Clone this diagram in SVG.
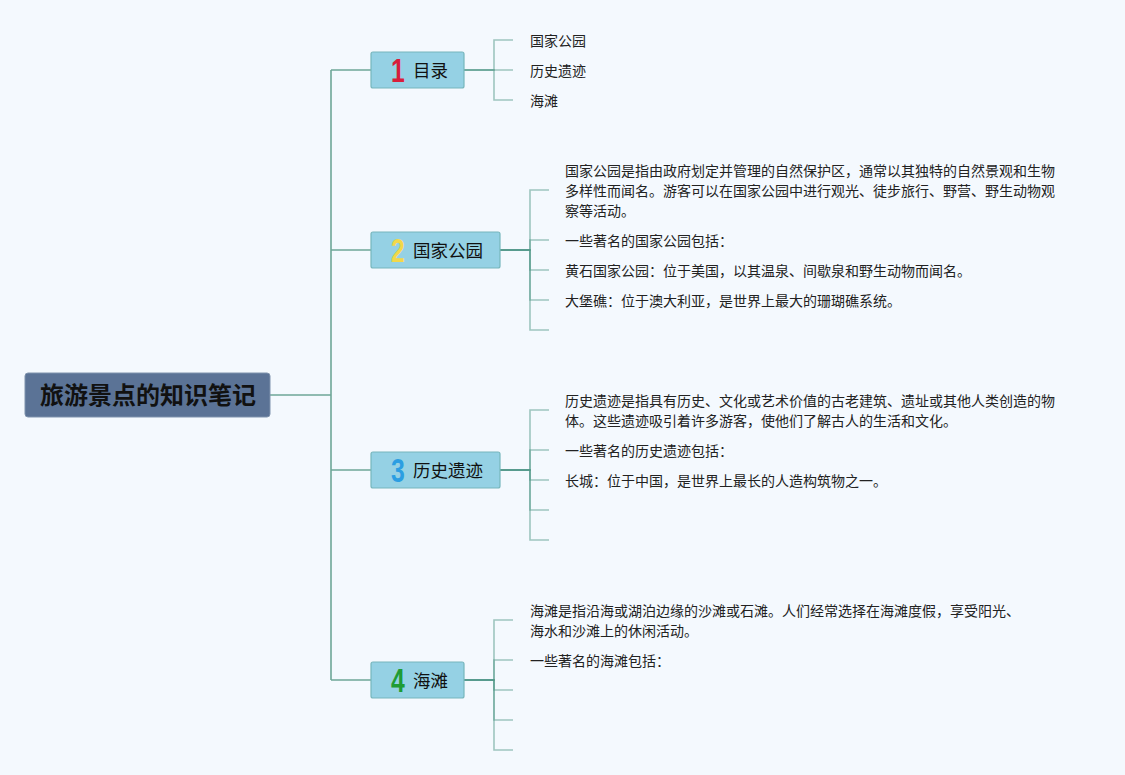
<svg xmlns="http://www.w3.org/2000/svg" width="1125" height="775" viewBox="0 0 1125 775">
<style>
.bg{fill:#f4f9fe}
.trunk{fill:none;stroke:#6ea798;stroke-width:1.6}
.sub{fill:none;stroke:#4a9482;stroke-opacity:0.5;stroke-width:1.6}
.root{fill:#5b7396;stroke:#7f93ad;stroke-width:1}
.rootT{font-family:"Noto Sans CJK SC",sans-serif;font-weight:bold;font-size:24px;fill:#111;text-anchor:middle}
.box{fill:#95d1e4;stroke:#76b6bc;stroke-width:1.2}
.num{font-family:"Liberation Sans",sans-serif;font-weight:bold;font-size:33px;text-anchor:middle}
.lbl{font-family:"Noto Sans CJK SC",sans-serif;font-size:17.5px;fill:#111}
.t{font-family:"Noto Sans CJK SC",sans-serif;font-size:14px;fill:#222}
</style>
<rect class="bg" x="0" y="0" width="1125" height="775"/>
<g id="connectors">
<path class="trunk" d="M270 395H331M331 70V680M331 70H371M331 250H371M331 470H371M331 680H371"/>
<path class="sub" d="M464 70H494V40H513"/>
<path class="sub" d="M464 70H494H513"/>
<path class="sub" d="M464 70H494V100H513"/>
<path class="sub" d="M500 250H530V190H549"/>
<path class="sub" d="M500 250H530V240H549"/>
<path class="sub" d="M500 250H530V270H549"/>
<path class="sub" d="M500 250H530V300H549"/>
<path class="sub" d="M500 250H530V330H549"/>
<path class="sub" d="M500 470H530V410H549"/>
<path class="sub" d="M500 470H530V450H549"/>
<path class="sub" d="M500 470H530V480H549"/>
<path class="sub" d="M500 470H530V510H549"/>
<path class="sub" d="M500 470H530V540H549"/>
<path class="sub" d="M464 680H494V620H513"/>
<path class="sub" d="M464 680H494V660H513"/>
<path class="sub" d="M464 680H494V690H513"/>
<path class="sub" d="M464 680H494V720H513"/>
<path class="sub" d="M464 680H494V750H513"/>
</g>
<g id="root">
<rect class="root" x="25" y="373" width="245" height="44" rx="3"/>
<text class="rootT" x="148" y="404">旅游景点的知识笔记</text>
</g>
<g id="node1">
<rect class="box" x="371" y="52" width="93" height="36" rx="2"/>
<text class="num" transform="translate(398,82) scale(0.75,1)" fill="#d81e3a">1</text>
<text class="lbl" x="413" y="77">目录</text>
</g>
<g id="node2">
<rect class="box" x="371" y="232" width="129" height="36" rx="2"/>
<text class="num" transform="translate(398,262) scale(0.75,1)" fill="#f2d84a">2</text>
<text class="lbl" x="413" y="257">国家公园</text>
</g>
<g id="node3">
<rect class="box" x="371" y="452" width="129" height="36" rx="2"/>
<text class="num" transform="translate(398,482) scale(0.75,1)" fill="#2b9ee2">3</text>
<text class="lbl" x="413" y="477">历史遗迹</text>
</g>
<g id="node4">
<rect class="box" x="371" y="662" width="93" height="36" rx="2"/>
<text class="num" transform="translate(398,692) scale(0.75,1)" fill="#1f9c35">4</text>
<text class="lbl" x="413" y="687">海滩</text>
</g>
<g id="node1-children">
<text class="t" x="530" y="46">国家公园</text>
<text class="t" x="530" y="76">历史遗迹</text>
<text class="t" x="530" y="106">海滩</text>
</g>
<g id="node2-children">
<text class="t" x="565" y="176">国家公园是指由政府划定并管理的自然保护区，通常以其独特的自然景观和生物</text>
<text class="t" x="565" y="196">多样性而闻名。游客可以在国家公园中进行观光、徒步旅行、野营、野生动物观</text>
<text class="t" x="565" y="216">察等活动。</text>
<text class="t" x="565" y="246">一些著名的国家公园包括：</text>
<text class="t" x="565" y="276">黄石国家公园：位于美国，以其温泉、间歇泉和野生动物而闻名。</text>
<text class="t" x="565" y="306">大堡礁：位于澳大利亚，是世界上最大的珊瑚礁系统。</text>
</g>
<g id="node3-children">
<text class="t" x="565" y="406">历史遗迹是指具有历史、文化或艺术价值的古老建筑、遗址或其他人类创造的物</text>
<text class="t" x="565" y="426">体。这些遗迹吸引着许多游客，使他们了解古人的生活和文化。</text>
<text class="t" x="565" y="456">一些著名的历史遗迹包括：</text>
<text class="t" x="565" y="486">长城：位于中国，是世界上最长的人造构筑物之一。</text>
</g>
<g id="node4-children">
<text class="t" x="530" y="616">海滩是指沿海或湖泊边缘的沙滩或石滩。人们经常选择在海滩度假，享受阳光、</text>
<text class="t" x="530" y="636">海水和沙滩上的休闲活动。</text>
<text class="t" x="530" y="666">一些著名的海滩包括：</text>
</g>
</svg>
